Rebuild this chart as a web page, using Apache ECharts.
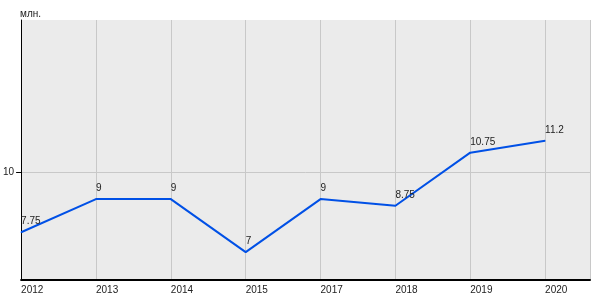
<!DOCTYPE html>
<html><head><meta charset="utf-8">
<script src="https://cdn.jsdelivr.net/npm/echarts@6/dist/echarts.min.js"></script>
<style>html,body{margin:0;padding:0;background:#fff}#c{width:600px;height:300px}</style>
</head><body><div id="c"></div>
<script>
const categories = ['2012','2013','2014','2015','2017','2018','2019','2020'];
const values = [7.75, 9, 9, 7, 9, 8.75, 10.75, 11.2];
const yTicks = [10];
const unitLabel = 'млн.';

const chart = echarts.init(document.getElementById('c'), null, {renderer:'canvas'});
const font = 'Liberation Sans, Arial, sans-serif';
chart.setOption({
  animation:false,
  grid:{left:20,top:20,right:10,bottom:20,show:true,backgroundColor:'#ebebeb',borderWidth:0},
  graphic:[{type:'text',left:20,top:9,style:{text:unitLabel,fontSize:10,fontFamily:font,fill:'#222'}}],
  xAxis:{type:'value',min:0,max:7.6,interval:1,
    axisLine:{show:true,lineStyle:{color:'#000',width:2}},
    axisTick:{show:false},
    splitLine:{show:true,lineStyle:{color:'#c8c8c8',width:1}},
    axisLabel:{fontSize:10,fontFamily:font,color:'#222',align:'left',margin:5,
      showMaxLabel:false,
      formatter:v=>categories[Math.round(v)]!==undefined && Math.abs(v-Math.round(v))<1e-6 ? categories[Math.round(v)] : ''}
  },
  yAxis:{type:'value',min:5.95,max:15.75,
    axisLine:{show:true,onZero:false,lineStyle:{color:'#000',width:1}},
    axisTick:{show:true,length:5,customValues:yTicks,lineStyle:{color:'#000'}},
    axisLabel:{fontSize:10,fontFamily:font,color:'#222',margin:7,customValues:yTicks},
    splitLine:{show:true,lineStyle:{color:'#c8c8c8',width:1}}
  },
  series:[{type:'line',data:values.map((v,i)=>[i,v]),
    symbol:'circle',symbolSize:1,showSymbol:true,
    itemStyle:{color:'#0050e6'},
    lineStyle:{color:'#0050e6',width:2},
    label:{show:true,position:'top',distance:5,align:'left',fontSize:10,fontFamily:font,color:'#222'}
  }]
});
</script></body></html>
